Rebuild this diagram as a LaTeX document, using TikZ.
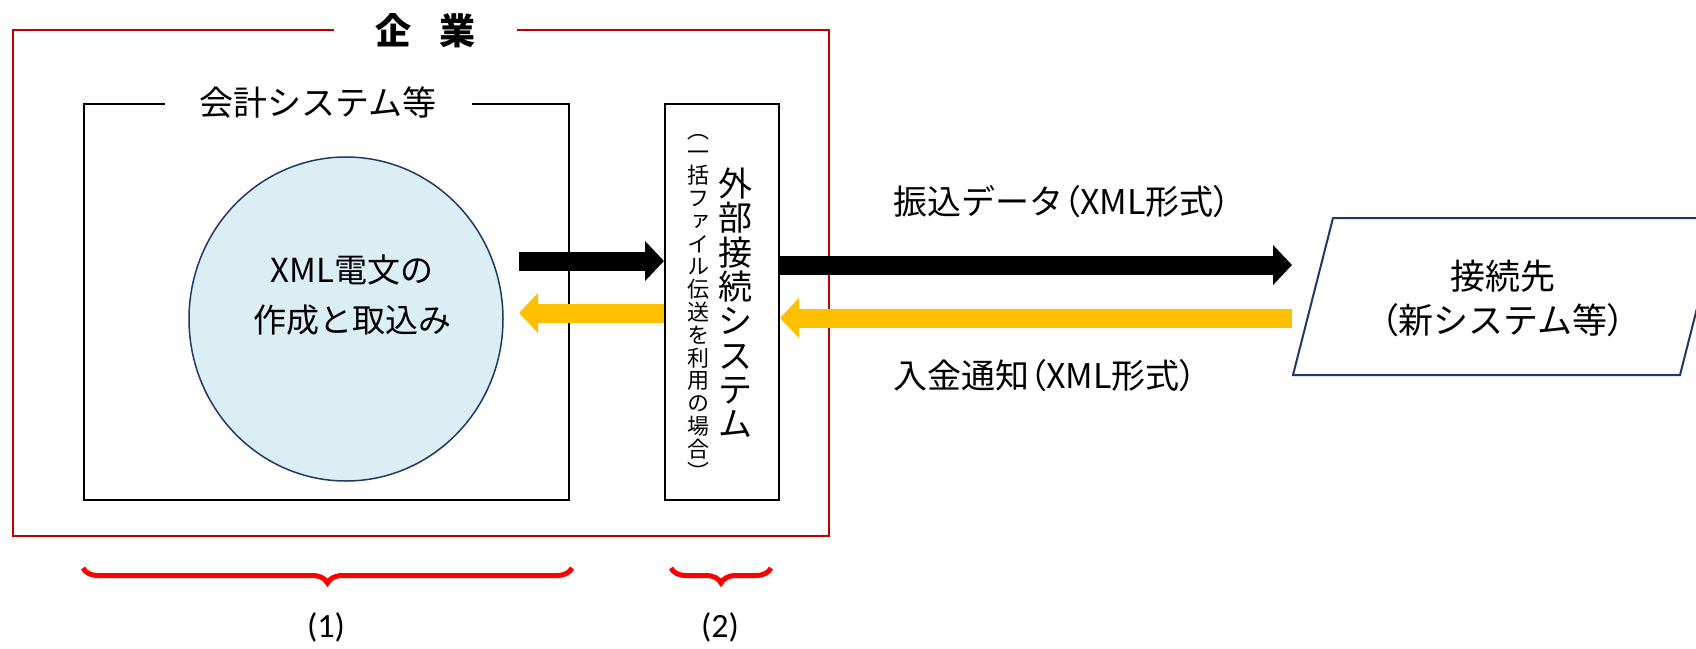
\documentclass[tikz,border=0pt]{standalone}
\usepackage{fontspec}
\setmainfont{Noto Sans CJK JP}
\newfontfamily\cjkv[RawFeature=+vert]{Noto Sans CJK JP}
\newfontfamily\cjkp[RawFeature=+palt]{Noto Sans CJK JP}
\newfontfamily\calib{Carlito}
\usetikzlibrary{arrows.meta,decorations.pathreplacing,shapes.geometric}
\newcommand\LP{{\cjkp （}}
\newcommand\RP{{\cjkp ）}}
\newcommand\tightlines{\lineskiplimit=-100pt\relax\lineskip=0pt\relax}
\definecolor{redbox}{HTML}{C00000}
\definecolor{navy}{HTML}{1F3864}
\definecolor{lightblue}{HTML}{DAEEF3}
\definecolor{gold}{HTML}{FFC000}
\tikzset{
  framebox/.style={draw, line width=2pt, inner sep=0pt},
  blockarrow/.style={line width=19pt, -{Triangle[width=39pt,length=19pt]}},
  txt/.style={inner sep=0pt, font=\fontsize{34}{44}\selectfont},
  bracestyle/.style={red, line width=5pt, decorate, decoration={brace, amplitude=15pt}},
  numlbl/.style={inner sep=0pt, font=\calib\fontsize{34}{34}\selectfont},
}
\begin{document}
\begin{tikzpicture}[x=1pt,y=1pt]
\useasboundingbox (0,0) rectangle (1696,-648);
\clip (0,0) rectangle (1696,-648);
\fill[white] (0,0) rectangle (1696,-648);

% company frame
\node[framebox, draw=redbox, minimum width=816pt, minimum height=506pt] (corp) at (421,-283) {};
\node[fill=white, minimum width=183pt, minimum height=62pt, inner sep=0pt,
      font=\fontsize{36}{36}\selectfont\bfseries] (corplbl) at (425.5,-31) {企\hspace{28pt}業};

% accounting system box
\node[framebox, minimum width=485pt, minimum height=396pt] (acct) at (326.5,-302) {};
\node[fill=white, minimum width=307pt, minimum height=40pt, txt] (acctlbl) at (318,-103) {会計システム等};

% circle
\node[ellipse, draw=navy, fill=lightblue, line width=1.5pt, minimum width=314pt, minimum height=324pt] (circ) at (346,-319) {};
\node[txt, align=center, font=\fontsize{33}{50}\selectfont] (circtext) at (352,-295) {XML電文の\\作成と取込み};

% external connection system box
\node[framebox, minimum width=114pt, minimum height=396pt] (ext) at (722,-302) {};
\node[inner sep=0pt, align=center, font={\fontsize{34}{34.3}\selectfont\tightlines}] (extname) at (735,-303)
  {外\\部\\接\\続\\シ\\ス\\テ\\ム};
\node[inner sep=0pt, align=center, font={\cjkv\fontsize{22}{22.8}\selectfont\tightlines}] (extnote) at (698,-307)
  {︵\\一\\括\\フ\\ァ\\イ\\ル\\伝\\送\\を\\利\\用\\の\\場\\合\\︶};

% destination parallelogram
\coordinate (p1) at (1333,-218);
\coordinate (p2) at (1720,-218);
\coordinate (p3) at (1680,-375);
\coordinate (p4) at (1293,-375);
\draw[navy, line width=2pt] (p1) -- (p2) -- (p3) -- (p4) -- cycle;
\node[txt, align=center, font=\fontsize{35}{44}\selectfont] (dest) at (1503,-298) {接続先\\\LP 新システム等\RP};

% arrows
\coordinate (bk1s) at (519,-261);
\draw[blockarrow, black] (bk1s) -- (bk1s -| ext.west);
\coordinate (yl1e) at (519,-313);
\draw[blockarrow, gold] (yl1e -| ext.west) -- (yl1e);
\coordinate (bk2e) at (1292,-265);
\draw[blockarrow, black] (bk2e -| ext.east) -- (bk2e);
\coordinate (yl2s) at (1292,-318);
\draw[blockarrow, gold] (yl2s) -- (yl2s -| ext.east);

% arrow labels
\node[txt, anchor=west] (lbl1) at (893,-202) {振込データ\LP XML形式\RP};
\node[txt, anchor=west] (lbl2) at (893,-376) {入金通知\LP XML形式\RP};

% braces
\coordinate (b1a) at (572,-568);
\coordinate (b1b) at (83,-568);
\draw[bracestyle] (b1a) -- (b1b);
\coordinate (b2a) at (771,-568);
\coordinate (b2b) at (671,-568);
\draw[bracestyle] (b2a) -- (b2b);
\node[numlbl] (n1) at (326,-627) {(1)};
\node[numlbl] (n2) at (720,-627) {(2)};
\end{tikzpicture}
\end{document}
